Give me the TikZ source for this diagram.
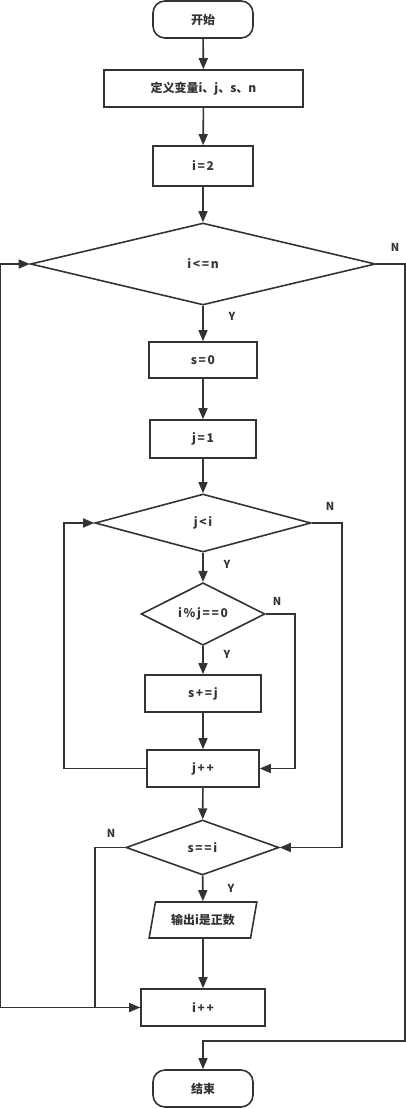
\documentclass[tikz,border=0pt]{standalone}
\usepackage{fontspec}
\setmainfont{Noto Sans CJK SC}
\newfontfamily\spaced{Noto Sans CJK SC}[LetterSpace=14]
\usepackage{tikz}
\usetikzlibrary{arrows.meta, positioning, shapes.geometric}
\definecolor{lineGray}{HTML}{333333}

\begin{document}
\begin{tikzpicture}[x=1pt, y=-1pt, line width=1.6pt, draw=lineGray,
    every node/.style={font=\fontsize{12}{14}\selectfont\bfseries, text=lineGray},
    terminal/.style={draw, rounded corners=12pt, minimum width=100pt, minimum height=37pt, inner sep=0pt},
    process/.style={draw, minimum height=37pt, inner sep=0pt},
    decision/.style={draw, diamond, inner sep=0pt},
    io/.style={draw, trapezium, trapezium left angle=70, trapezium right angle=110, trapezium stretches=true, minimum width=108pt, minimum height=36pt, inner sep=0pt},
    arrow/.style={draw=lineGray, -{Triangle[length=11pt, width=9pt]}},
    latin/.style={font=\spaced\fontsize{12}{14}\selectfont\bfseries},
    yn/.style={font=\fontsize{11}{13}\selectfont\bfseries}]
    \useasboundingbox (0,0) rectangle (406,1109);
    \node[terminal] (start) at (203,19.5) {开始};
    \node[process, minimum width=199pt] (define) at (203.5,88.5) {定义变量i、j、s、n};
    \node[process, latin, minimum width=100pt, minimum height=40pt] (i2) at (203,166) {i=2};
    \node[decision, latin, minimum width=345pt, minimum height=82pt] (cond1) at (203,264) {i<=n};
    \node[process, latin, minimum width=108pt, minimum height=36pt] (s0) at (203,360) {s=0};
    \node[process, latin, minimum width=106pt, minimum height=38pt] (j1) at (203,439) {j=1};
    \node[decision, latin, minimum width=216pt, minimum height=58pt] (cond2) at (203,523) {j<i};
    \node[decision, latin, minimum width=124pt, minimum height=56pt] (cond3) at (203,614) {i\%j==0};
    \node[process, latin, minimum width=116pt] (sj) at (203,693.5) {s+=j};
    \node[process, latin, minimum width=112pt] (jpp) at (203,768.5) {j++};
    \node[decision, latin, minimum width=153pt, minimum height=55pt] (cond4) at (202.5,847.5) {s==i};
    \node[io] (out) at (203,920) {输出i是正数};
    \node[process, latin, minimum width=124pt] (ipp) at (203,1007.5) {i++};
    \node[terminal] (end) at (203,1088.5) {结束};
    \coordinate (turn) at (405,1041);

    % yes / no labels
    \node[yn] (y1) at (232,316) {Y};
    \node[yn] (n1) at (395,247) {N};
    \node[yn] (n2) at (330,506) {N};
    \node[yn] (y2) at (227,564) {Y};
    \node[yn] (n3) at (277,601) {N};
    \node[yn] (y3) at (227,654) {Y};
    \node[yn] (n4) at (111,833) {N};
    \node[yn] (y4) at (231,888) {Y};

    \draw[arrow] (start) -- (define);
    \draw[arrow] (define) -- (i2);
    \draw[arrow] (i2) -- (cond1);
    \draw[arrow] (cond1) -- (s0);
    \draw[arrow] (s0) -- (j1);
    \draw[arrow] (j1) -- (cond2);
    \draw[arrow] (cond2) -- (cond3);
    \draw[arrow] (cond3) -- (sj);
    \draw[arrow] (sj) -- (jpp);
    \draw[arrow] (jpp) -- (cond4);
    \draw[arrow] (cond4) -- (out);
    \draw[arrow] (out) -- (ipp);
    \draw[arrow] (cond3.east) -- ++(29,0) |- (jpp.east);
    \draw[arrow] (jpp.west) -- ++(-82,0) |- (cond2.west);
    \draw[arrow] (cond2.east) -- ++(30,0) |- (cond4.east);
    \draw[arrow] (cond4.west) -- ++(-30,0) |- (ipp.west);
    \draw[arrow] (ipp.west) -- ++(-140,0) |- (cond1.west);
    \draw[arrow] (cond1.east) -| (turn) -| (end.north);
\end{tikzpicture}
\end{document}
